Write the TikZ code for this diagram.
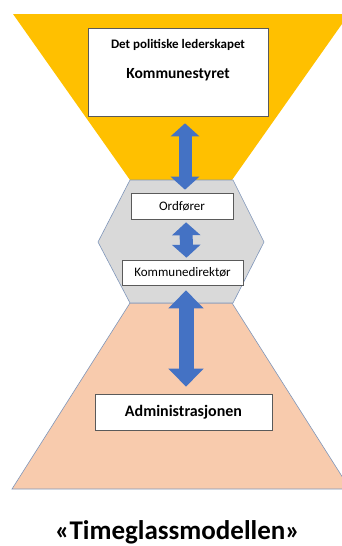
\documentclass[tikz,border=0pt]{standalone}
\usepackage{fontspec}
\setmainfont{Carlito}
\usetikzlibrary{positioning,arrows.meta}
\definecolor{glstop}{HTML}{FFC000}
\definecolor{glsmid}{HTML}{D9D9D9}
\definecolor{glsbot}{HTML}{F8CBAD}
\definecolor{glsedge}{HTML}{7F96BA}
\definecolor{glsarrow}{HTML}{4472C4}
\definecolor{glsbox}{HTML}{5A5A5A}
\tikzset{
  part/.style={draw=glsedge, line width=0.6pt},
  rolebox/.style={draw=glsbox, fill=white, line width=0.6pt, inner sep=0pt},
  blk/.style={glsarrow, line width=13pt,
    {Triangle[length=13pt,width=28pt]}-{Triangle[length=13pt,width=28pt]}},
}

\begin{document}
\begin{tikzpicture}[x=1pt,y=-1pt]
\useasboundingbox (0,0) rectangle (342,546);

% ---- the three parts of the hourglass ----
\fill[glstop] (13,14) -- (349,14) -- (232,180) -- (130,180) -- cycle;
\draw[part,fill=glsbot] (130,303) -- (232,303) -- (350,489) -- (12,489) -- cycle;
\draw[part,fill=glsmid] (130,180) -- (233,180) -- (264,242) -- (233,303)
  -- (130,303) -- (98,242) -- cycle;

% ---- role boxes ----
\node[rolebox, minimum width=180pt, minimum height=88pt] (kstyre) at (178,72) {};
\node[font=\fontsize{13}{15}\selectfont\bfseries, below=8pt of kstyre.north] (polit)
  {Det politiske lederskapet};
\node[font=\fontsize{15.5}{18}\selectfont\bfseries, below=11pt of polit] (kstyretxt)
  {Kommunestyret};
\node[rolebox, minimum width=102pt, minimum height=26pt,
  font=\fontsize{13}{15}\selectfont] (ordf) at (182,206) {Ordfører};
\node[rolebox, minimum width=121pt, minimum height=25pt,
  font=\fontsize{13}{15}\selectfont] (kdir) at (182.5,272.5) {Kommunedirektør};
\node[rolebox, minimum width=177pt, minimum height=36pt,
  font=\fontsize{16}{18}\selectfont\bfseries] (adm) at (183.5,412) {Administrasjonen};

% ---- two-way arrows ----
\draw[blk, shorten <=7pt, shorten >=3pt]
  ([xshift=7pt]kstyre.south) -- ([xshift=3pt]ordf.north);
\draw[blk, shorten <=3pt, shorten >=2pt]
  ([xshift=4pt]ordf.south) -- ([xshift=4pt]kdir.north);
\draw[blk, line width=15pt, shorten <=5pt, shorten >=7pt,
  {Triangle[length=18pt,width=34pt]}-{Triangle[length=18pt,width=34pt]}]
  ([xshift=3.5pt]kdir.south) -- ([xshift=2.5pt]adm.north);

% ---- title ----
\node[font=\fontsize{27}{31}\selectfont\bfseries] (title) at (177.5,532)
  {«Timeglassmodellen»};
\end{tikzpicture}
\end{document}
